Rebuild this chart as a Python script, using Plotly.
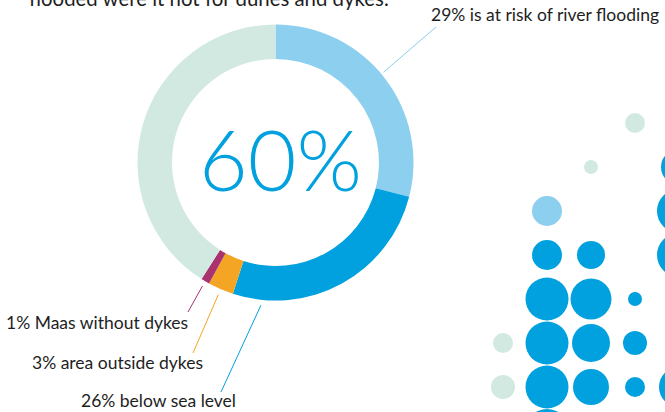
import math
import plotly.graph_objects as go

# ---------------- data ----------------
slice_labels = ["is at risk of river flooding", "below sea level", "area outside dykes",
                "Maas without dykes", "not at risk"]
slice_values = [29, 26, 3, 1, 41]
slice_colors = ["#8ccfee", "#00a1de", "#f5a524", "#a9336f", "#d1e9e1"]
center_text = "60%"
headline = "flooded were it not for dunes and dykes."

label_texts = ["29% is at risk of river flooding", "26% below sea level",
               "3% area outside dykes", "1% Maas without dykes"]

# decorative bubble grid (column index, row index, diameter, colour group)
bubble_col = [3, 2, 4, 1, 4, 1, 2, 4, 1, 2, 3, 0, 1, 2, 3, 0, 1, 2, 3, 4, 1]
bubble_row = [0, 1, 1, 2, 2, 3, 3, 3, 4, 4, 4, 5, 5, 5, 5, 6, 6, 6, 6, 6, 7]
bubble_size = [20, 14, 36, 30, 44, 30, 28, 44, 43, 41, 14, 20, 43, 38, 24, 24, 43, 36, 20, 40, 44]
bubble_group = ["pale", "pale", "blue", "light", "blue", "blue", "blue", "blue", "blue", "blue",
                "blue", "pale", "blue", "blue", "blue", "pale", "blue", "blue", "blue", "blue", "blue"]
group_colors = {"pale": "#d1e9e1", "light": "#8ccfee", "blue": "#00a1de"}

# ---------------- layout helpers ----------------
W, H = 665, 412
FONT = "Lato"
TXT = "#1e1e1e"
LBL = 17.5


def px(x):
    return x / W


def py(y):
    return 1 - y / H


cx, cy, R = 275.5, 162.5, 138.0

fig = go.Figure()

fig.add_trace(go.Pie(
    values=slice_values,
    labels=slice_labels,
    marker=dict(colors=slice_colors, line=dict(width=0)),
    hole=0.75,
    sort=False,
    direction="clockwise",
    rotation=0,
    textinfo="none",
    hoverinfo="label+value",
    showlegend=False,
    domain=dict(x=[px(cx - R), px(cx + R)], y=[py(cy + R), py(cy - R)]),
))

# bubbles on a grid axis: column spacing 44 px starting at x=503, row spacing 44 px starting at y=123
step, x0, y0 = 44.0, 503.0, 123.0
fig.add_trace(go.Scatter(
    x=bubble_col, y=bubble_row, mode="markers",
    marker=dict(size=bubble_size, color=[group_colors[g] for g in bubble_group],
                line=dict(width=0), opacity=1),
    hoverinfo="skip", showlegend=False, cliponaxis=True,
))

fig.update_xaxes(range=[-x0 / step, (W - x0) / step], visible=False, fixedrange=True)
fig.update_yaxes(range=[(H - y0) / step, -y0 / step], visible=False, fixedrange=True)

# leader lines: start just outside the ring at an angle (deg clockwise from top)
cum = [0]
for v in slice_values:
    cum.append(cum[-1] + v)
tot = cum[-1]


def mid_angle(i, frac=0.5):
    return 360.0 * (cum[i] + frac * slice_values[i]) / tot


leaders = [
    # (slice index, fraction along slice, start radius, end point, colour)
    (0, 0.48, 141, (436, 27), "#8ccfee"),
    (1, 0.87, 143.5, (221, 392), "#00a1de"),
    (2, 0.5, 144, (193, 353), "#f5a524"),
    (3, 0.5, 143.5, (188, 312), "#a9336f"),
]
shapes = []
for i, frac, r, (ex, ey), col in leaders:
    a = math.radians(mid_angle(i, frac))
    sx = cx + r * math.sin(a)
    sy = cy - r * math.cos(a)
    shapes.append(dict(type="line", xref="paper", yref="paper",
                       x0=px(sx), y0=py(sy), x1=px(ex), y1=py(ey),
                       line=dict(color=col, width=1)))

annotations = [
    dict(text=center_text, x=px(280.5), y=py(158), xref="paper", yref="paper",
         showarrow=False, xanchor="center", yanchor="middle",
         font=dict(family=FONT, size=84, color="#00a1de", weight=300)),
    dict(text=headline, x=px(27), y=py(-2), xref="paper", yref="paper",
         showarrow=False, xanchor="left", yanchor="middle",
         font=dict(family=FONT, size=20.4, color=TXT)),
    dict(text=label_texts[0], x=px(661), y=py(15), xref="paper", yref="paper",
         showarrow=False, xanchor="right", yanchor="middle",
         font=dict(family=FONT, size=LBL, color=TXT)),
    dict(text=label_texts[1], x=px(238), y=py(400), xref="paper", yref="paper",
         showarrow=False, xanchor="right", yanchor="middle",
         font=dict(family=FONT, size=LBL, color=TXT)),
    dict(text=label_texts[2], x=px(205), y=py(362), xref="paper", yref="paper",
         showarrow=False, xanchor="right", yanchor="middle",
         font=dict(family=FONT, size=LBL, color=TXT)),
    dict(text=label_texts[3], x=px(190), y=py(322), xref="paper", yref="paper",
         showarrow=False, xanchor="right", yanchor="middle",
         font=dict(family=FONT, size=LBL, color=TXT)),
]

fig.update_layout(
    width=W, height=H,
    margin=dict(l=0, r=0, t=0, b=0),
    paper_bgcolor="white", plot_bgcolor="white",
    shapes=shapes, annotations=annotations,
    font=dict(family=FONT, color=TXT),
)

fig.write_html(
    "out.html",
    config=dict(displayModeBar=False),
    post_script="document.body.style.margin='0';document.body.style.overflow='hidden';",
)
